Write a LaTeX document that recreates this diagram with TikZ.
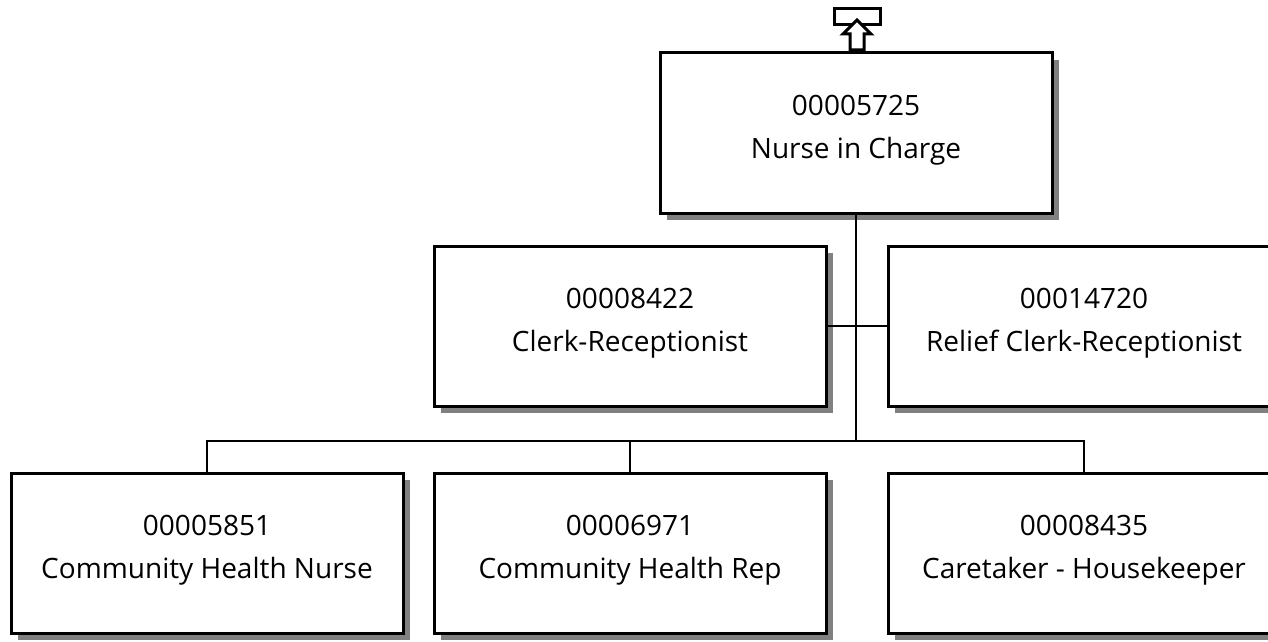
\documentclass[tikz,border=0pt]{standalone}
\usepackage{fontspec}
\setmainfont{Open Sans}
\usetikzlibrary{shadows}

\begin{document}
\begin{tikzpicture}[x=1pt, y=-1pt,
    post/.style={draw, line width=3pt, fill=white, minimum width=392pt,
      minimum height=160pt, align=center, font=\fontsize{28}{43}\selectfont,
      text depth=13pt,
      drop shadow={shadow xshift=7pt, shadow yshift=-7pt, fill=gray, opacity=1}},
    link/.style={line width=2.5pt}]
    \useasboundingbox (0, 0) rectangle (1268, 642);
    \clip (0, 0) rectangle (1268, 642);

    % Head of the unit
    \node[post] (nic) at (856, 133) {00005725\\Nurse in Charge};

    % Staff beside the line
    \node[post] (clerk) at (630, 326) {00008422\\Clerk-Receptionist};
    \node[post] (relief) at (1084, 326) {00014720\\Relief Clerk-Receptionist};

    % Staff below
    \node[post] (chn) at (207, 553) {00005851\\Community Health Nurse};
    \node[post] (chr) at (630, 553) {00006971\\Community Health Rep};
    \node[post] (care) at (1084, 553) {00008435\\Caretaker - Housekeeper};

    % Lines
    \coordinate (bus) at (856, 441);
    \draw[link] (nic.south) -- (bus);
    \draw[link] (clerk.east) -- (relief.west);
    \draw[link] (chn.north) |- (bus) -| (care.north);
    \draw[link] (chr.north) -- (chr.north |- bus);

    % Icon above the head box
    \draw[line width=3pt, fill=white] (834, 9) rectangle (880, 25);
    \draw[line width=3pt, fill=white, line join=miter]
        (857, 20) -- (871, 34) -- (864, 34) -- (864, 50) -- (850, 50)
        -- (850, 34) -- (843, 34) -- cycle;
\end{tikzpicture}
\end{document}
